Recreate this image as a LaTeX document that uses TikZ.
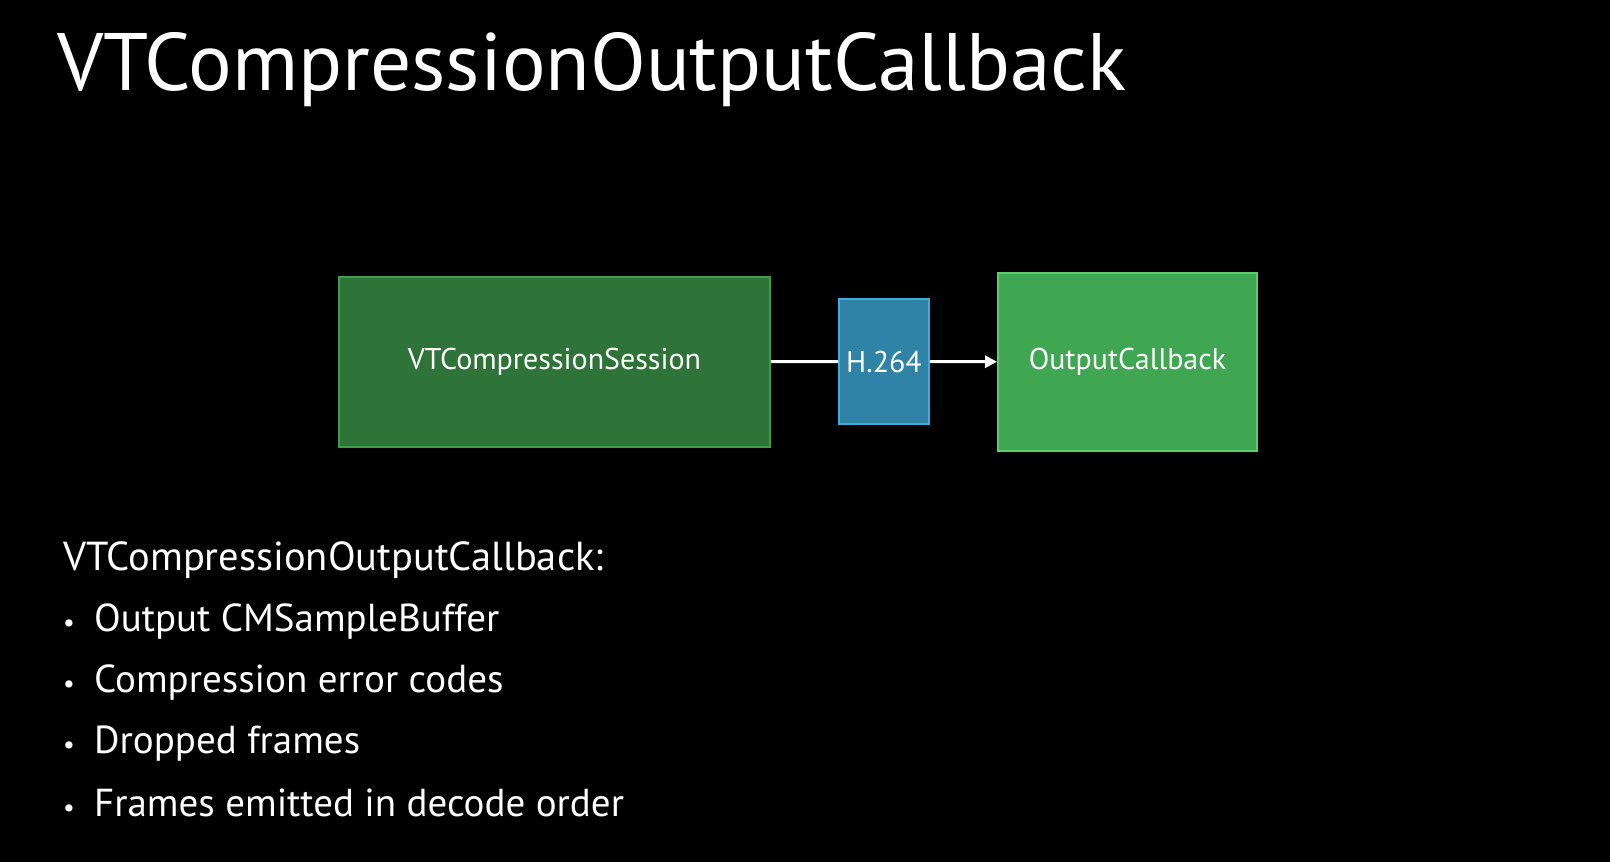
\documentclass[tikz,border=0pt]{standalone}
\usepackage{fontspec}
\setmainfont{PT Sans}
\usetikzlibrary{arrows.meta}
\definecolor{sessfill}{HTML}{2E7337}
\definecolor{sessdraw}{HTML}{3E9E48}
\definecolor{cbfill}{HTML}{3FA651}
\definecolor{cbdraw}{HTML}{5ACF69}
\definecolor{hfill}{HTML}{2E83A7}
\definecolor{hdraw}{HTML}{3EADDE}
\begin{document}
\begin{tikzpicture}[x=1pt, y=-1pt,
  box/.style={draw, line width=2pt, text=white, inner sep=0pt, font=\fontsize{30}{35}\selectfont},
  txt/.style={text=white, anchor=base west, inner sep=0pt},
  item/.style={txt, font=\fontsize{39}{46}\selectfont},
  flow/.style={draw=white, line width=3pt}]
  \fill[black] (0,0) rectangle (1610,862);
  \useasboundingbox (0,0) rectangle (1610,862);

  \node[txt, font=\fontsize{81.5}{94}\selectfont] at (57, 90) (title) {VTCompressionOutputCallback};

  \node[box, draw=sessdraw, fill=sessfill, minimum width=431, minimum height=170] at (554.5, 362) (sess) {VTCompressionSession};
  \node[box, draw=hdraw, fill=hfill, minimum width=90, minimum height=125] at (884, 361.5) (h264) {H.264};
  \node[box, draw=cbdraw, fill=cbfill, minimum width=259, minimum height=178] at (1127.5, 362) (cb) {OutputCallback};

  \path
  (sess) edge[flow] (h264)
  (h264) edge[flow, -{Triangle[length=12pt, width=12pt]}] (cb);

  \node[txt, font=\fontsize{40.5}{48}\selectfont] at (63, 570) (head) {VTCompressionOutputCallback:};
  \node[item] at (94, 631) (b1) {Output CMSampleBuffer};
  \node[item] at (94, 692) (b2) {Compression error codes};
  \node[item] at (94, 753) (b3) {Dropped frames};
  \node[item] at (94, 816) (b4) {Frames emitted in decode order};
  \foreach \b in {b1, b2, b3, b4}
    \node[text=white, font=\fontsize{26}{30}\selectfont, anchor=base] at ([xshift=-25pt]\b.base west) {\textbullet};
\end{tikzpicture}
\end{document}
